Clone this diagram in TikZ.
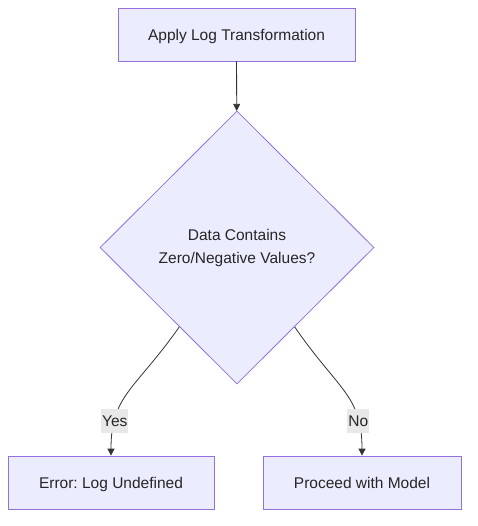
\documentclass[tikz,border=0pt]{standalone}
\usepackage{fontspec}
\setmainfont{Liberation Sans}
\usetikzlibrary{shapes.geometric, arrows.meta, calc}

\definecolor{boxfill}{HTML}{ECECFF}
\definecolor{boxline}{HTML}{9370DB}
\definecolor{edgeline}{HTML}{333333}
\definecolor{labelfill}{HTML}{E8E8E8}
\frenchspacing

\tikzset{
    stepbox/.style={draw=boxline, fill=boxfill, line width=0.8pt, inner sep=0pt, text height=13pt, text depth=1.5pt, font=\fontsize{15.5}{19}\selectfont, text=black!85},
    decision/.style={diamond, draw=boxline, fill=boxfill, line width=0.8pt, inner sep=0pt, minimum width=274pt, minimum height=273pt, align=center, font=\fontsize{15.5}{23}\selectfont, text=black!85},
    flow/.style={draw=edgeline, line width=0.8pt, -{Triangle[length=7pt, width=7pt]}},
    branch/.style={fill=labelfill, inner xsep=1pt, inner ysep=0pt, text height=13pt, text depth=1.5pt, minimum height=24pt, font=\fontsize{15.5}{19}\selectfont, text=black!85}
}

\begin{document}
\begin{tikzpicture}[x=1pt, y=-1pt]
                \useasboundingbox (0,0) rectangle (477,526);
                \node[stepbox, minimum width=237pt, minimum height=53pt] (Transform) at (236.5, 34.5) {Apply Log Transformation};
                \node[decision] (Check) at (237, 247.5) {Data Contains\\Zero/Negative Values?};
                \node[stepbox, minimum width=206pt, minimum height=53pt] (Undefined) at (111, 482.5) {Error: Log Undefined};
                \node[stepbox, minimum width=198pt, minimum height=53pt] (Proceed) at (362, 482.5) {Proceed with Model};
                \coordinate (yesStart) at ($(Check.west)!0.58!(Check.south)$);
                \coordinate (noStart) at ($(Check.east)!0.58!(Check.south)$);
                \draw[flow] (Transform) -- (Check);
                \draw[flow] (yesStart) .. controls (135, 390) and (111, 395) .. node[pos=0.77, branch]{Yes} (Undefined);
                \draw[flow] (noStart) .. controls (338, 390) and (362, 395) .. node[pos=0.77, branch]{No} (Proceed);
            \end{tikzpicture}
\end{document}
